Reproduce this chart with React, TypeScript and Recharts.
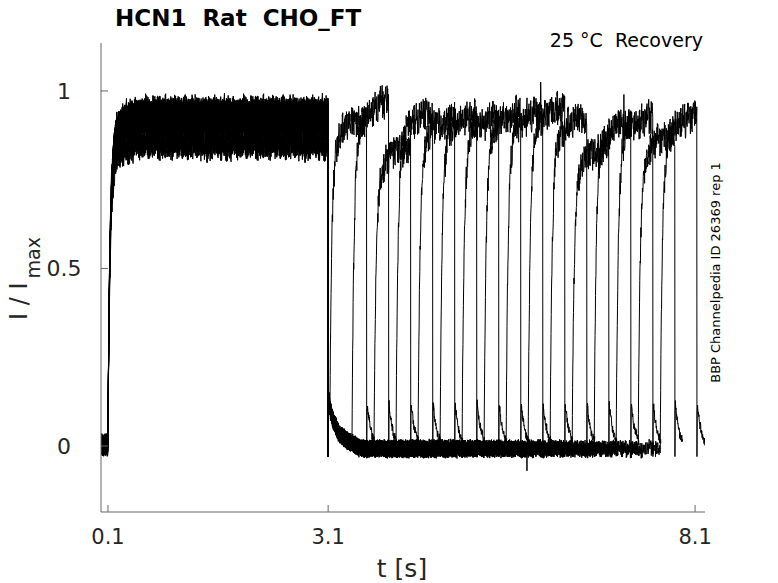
import { LineChart, Line, XAxis, YAxis } from "recharts";

const X_TICKS = [0.1, 3.1, 8.1];
const Y_TICKS = [0, 0.5, 1];

// protocol timing (s)
const PULSE1_ON = 0.1;
const PULSE1_OFF = 3.1;
const PULSE2_ON = [
  3.125, 3.425, 3.725, 4.025, 4.325, 4.625, 4.925, 5.225,
  5.525, 5.825, 6.125, 6.425, 6.725, 7.025, 7.325, 7.625,
];
const PULSE2_OFF = [
  3.625, 3.925, 4.225, 4.525, 4.825, 5.125, 5.425, 5.725,
  6.025, 6.325, 6.625, 6.925, 7.225, 7.525, 7.825, 8.125,
];

// steady levels (I / Imax)
const LEVEL1 = [0.93, 0.94, 0.85, 0.93, 0.92, 0.93, 0.92, 0.925, 0.935, 0.945, 0.925, 0.845, 0.905, 0.92, 0.865, 0.915];
const LEVEL2_START = [0.91, 0.93, 0.82, 0.93, 0.91, 0.92, 0.915, 0.92, 0.93, 0.94, 0.91, 0.825, 0.9, 0.915, 0.86, 0.9];
const LEVEL2_END = [0.92, 0.975, 0.845, 0.935, 0.92, 0.93, 0.925, 0.935, 0.94, 0.95, 0.92, 0.84, 0.91, 0.925, 0.875, 0.935];

// activation shape after a step (fraction of level)
const RISE_T = [0, 0.005, 0.01, 0.02, 0.03, 0.05, 0.08, 0.12, 0.2, 0.4];
const RISE_F = [0, 0.18, 0.3, 0.5, 0.63, 0.8, 0.9, 0.95, 0.98, 1];

// tail after the first step
const TAIL1_T = [0, 0.004, 0.03, 0.07, 0.16, 0.3, 0.45];
const TAIL1_V = [-0.03, 0.14, 0.1, 0.07, 0.03, 0.01, -0.008];

// tail after the second step (sweep ends here)
const TAIL2_T = [0, 0.004, 0.02, 0.04, 0.06, 0.08, 0.11];
const TAIL2_V = [-0.03, 0.12, 0.09, 0.06, 0.04, 0.025, 0.012];

const BASE_PRE = 0.003;
const BASE_GAP = -0.008;

// isolated glitches: sweep, time, value
const SPIKE_SWEEP = [8, 12, 15, 1];
const SPIKE_T = [5.995, 7.13, 5.81, 3.905];
const SPIKE_V = [1.025, 0.99, -0.07, 1.0];

// recording noise shape
const JITTER = [
  0.42, -0.81, 0.13, 0.95, -0.37, -0.66, 0.58, 0.04, -0.92, 0.71,
  -0.18, 0.33, -0.54, 0.87, -0.05, -0.74, 0.49, 0.22, -0.97, 0.64,
  -0.29, 0.1, 0.79, -0.61, -0.12, 0.91, -0.45, 0.36, -0.83, 0.55,
  0.02, -0.39, 0.68, -0.72, 0.27, 0.84, -0.22, -0.57, 0.15, 0.99,
  -0.88, 0.44, -0.08, 0.61, -0.49, 0.31, -0.95, 0.76, 0.07, -0.33,
  0.52, -0.68, 0.89, -0.15, 0.24, -0.79, 0.63, -0.41, 0.18, 0.93,
  -0.59, -0.02, 0.47, -0.86, 0.72, -0.26, 0.39, -0.64, 0.11, 0.81,
  -0.47, -0.19, 0.57, -0.9, 0.34, 0.66, -0.31, -0.76, 0.97, -0.11,
  0.28, -0.52, 0.74, -0.69, 0.06, 0.51, -0.35, 0.85, -0.24,
];

const DT = 0.003;
const FONT = "DejaVu Sans";
const TEXT = "#262626";
const AXIS = "#666";

function interp(xs: number[], ys: number[], x: number) {
  if (x <= xs[0]) return ys[0];
  for (let j = 1; j < xs.length; j++) {
    if (x <= xs[j]) {
      const f = (x - xs[j - 1]) / (xs[j] - xs[j - 1]);
      return ys[j - 1] + (ys[j] - ys[j - 1]) * f;
    }
  }
  return ys[ys.length - 1];
}

function buildSweep(k: number) {
  const pts: { t: number; v: number }[] = [];
  const L = JITTER.length;
  let i = 0;
  const noise = (amp: number) => {
    const fast = JITTER[(i * 7 + k * 13) % L];
    const slow = JITTER[(Math.floor(i / 5) * 11 + k * 29) % L];
    i++;
    return amp * (fast + 0.35 * slow);
  };
  const push = (t: number, v: number) => pts.push({ t: Math.round(t * 10000) / 10000, v });

  // holding
  for (let n = 0; 0.005 + n * DT < PULSE1_ON; n++) push(0.005 + n * DT, BASE_PRE + noise(0.026));

  // first step
  for (let n = 0; PULSE1_ON + n * DT <= PULSE1_OFF; n++) {
    const t = PULSE1_ON + n * DT;
    const f = interp(RISE_T, RISE_F, t - PULSE1_ON);
    push(t, BASE_PRE + (LEVEL1[k] - BASE_PRE) * f + noise(0.012 + 0.026 * f));
  }

  // interval at holding potential
  const on2 = PULSE2_ON[k];
  push(PULSE1_OFF + 0.0005, TAIL1_V[0]);
  let last = BASE_GAP;
  for (let n = 1; PULSE1_OFF + n * DT < on2; n++) {
    const dt = n * DT;
    const base = dt < 0.45 ? interp(TAIL1_T, TAIL1_V, dt) : BASE_GAP;
    last = base;
    push(PULSE1_OFF + dt, base + noise(0.021));
  }

  // second step
  const off2 = PULSE2_OFF[k];
  for (let n = 0; on2 + n * DT <= off2; n++) {
    const t = on2 + n * DT;
    const lvl = LEVEL2_START[k] + ((LEVEL2_END[k] - LEVEL2_START[k]) * (t - on2)) / (off2 - on2);
    const f = interp(RISE_T, RISE_F, t - on2);
    push(t, last + (lvl - last) * f + noise(0.012 + 0.03 * f));
  }

  // tail
  push(off2 + 0.0005, TAIL2_V[0]);
  for (let n = 1; n * DT <= TAIL2_T[TAIL2_T.length - 1]; n++) {
    push(off2 + n * DT, interp(TAIL2_T, TAIL2_V, n * DT) + noise(0.012));
  }

  SPIKE_SWEEP.forEach((s, j) => {
    if (s !== k) return;
    let best = 0;
    pts.forEach((p, idx) => {
      if (Math.abs(p.t - SPIKE_T[j]) < Math.abs(pts[best].t - SPIKE_T[j])) best = idx;
    });
    pts[best] = { t: pts[best].t, v: SPIKE_V[j] };
  });
  return pts;
}

const SWEEPS = LEVEL1.map((_, k) => buildSweep(k));

const YTick = (props: any) => {
  const { y, payload } = props;
  return (
    <g>
      <line x1={101} x2={108} y1={y} y2={y} stroke={AXIS} />
      <text x={64} y={y + 8} textAnchor="middle" fontFamily={FONT} fontSize={22} fill={TEXT}>
        {String(payload.value)}
      </text>
    </g>
  );
};

const XTick = (props: any) => {
  const { x, payload } = props;
  return (
    <g>
      <line x1={x} x2={x} y1={512} y2={505} stroke={AXIS} />
      <text x={x} y={544} textAnchor="middle" fontFamily={FONT} fontSize={21} fill={TEXT}>
        {String(payload.value)}
      </text>
    </g>
  );
};

export default function App() {
  return (
    <div style={{ position: "absolute", left: 0, top: 0, width: 778, height: 583, background: "#fff" }}>
      <LineChart width={778} height={583} margin={{ top: 43, right: 73, bottom: 0, left: 0 }}>
        <XAxis
          dataKey="t"
          type="number"
          domain={[0.005, 8.235]}
          ticks={X_TICKS}
          allowDataOverflow
          height={71}
          axisLine={{ stroke: AXIS }}
          tickLine={false}
          tick={XTick}
          interval={0}
        />
        <YAxis
          type="number"
          domain={[-0.186, 1.135]}
          ticks={Y_TICKS}
          allowDataOverflow
          width={101}
          axisLine={{ stroke: AXIS }}
          tickLine={false}
          tick={YTick}
          interval={0}
        />
        {SWEEPS.map((d, k) => (
          <Line
            key={k}
            data={d}
            dataKey="v"
            type="linear"
            stroke="#000"
            strokeWidth={1}
            dot={false}
            activeDot={false}
            isAnimationActive={false}
          />
        ))}
      </LineChart>
      <svg width={778} height={583} style={{ position: "absolute", left: 0, top: 0, pointerEvents: "none" }}>
        <text x={115} y={26} fontFamily={FONT} fontSize={23} fontWeight="bold" fill="#000" style={{ whiteSpace: "pre" }}>
          {"HCN1  Rat  CHO_FT"}
        </text>
        <text x={703} y={47} textAnchor="end" fontFamily={FONT} fontSize={19} fill="#000" style={{ whiteSpace: "pre" }}>
          {"25 °C  Recovery"}
        </text>
        <text
          transform="translate(719.5 272.5) rotate(-90)"
          textAnchor="middle"
          fontFamily={FONT}
          fontSize={13}
          fill="#000"
        >
          BBP Channelpedia ID 26369 rep 1
        </text>
        <text x={402} y={577} textAnchor="middle" fontFamily={FONT} fontSize={25} fill={TEXT}>
          t [s]
        </text>
        <text transform="translate(27 320) rotate(-90)" fontFamily={FONT} fontSize={24} fill={TEXT} style={{ whiteSpace: "pre" }}>
          {"I / I"}
          <tspan fontSize={19} dx={4} dy={13}>
            max
          </tspan>
        </text>
      </svg>
    </div>
  );
}
